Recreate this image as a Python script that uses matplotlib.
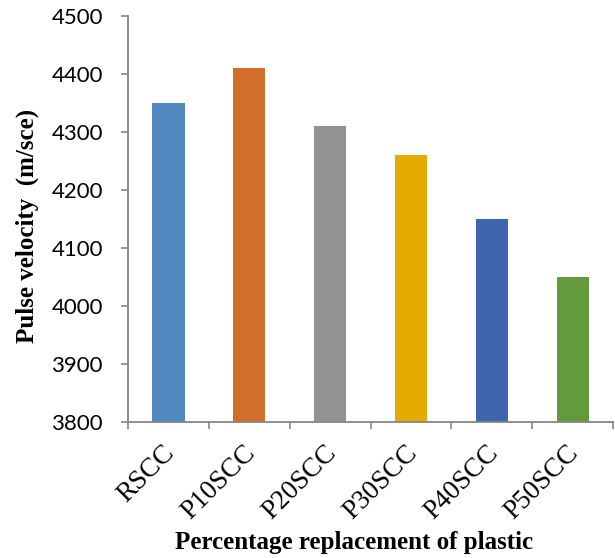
import numpy as np
import matplotlib
matplotlib.use("Agg")
from matplotlib import pyplot as plt
from matplotlib.ticker import FixedLocator

mixes = ["RSCC", "P10SCC", "P20SCC", "P30SCC", "P40SCC", "P50SCC"]
pulse_velocity = [4350, 4410, 4310, 4260, 4150, 4050]
bar_colors = ["#4F89C0", "#D26D2A", "#929292", "#E3AA00", "#3D66AE", "#629A3C"]
y_ticks = [3800, 3900, 4000, 4100, 4200, 4300, 4400, 4500]

axis_grey = "#868686"

fig = plt.figure(figsize=(6.15, 5.58), dpi=100)
ax = fig.add_axes([0.208, 0.2437, 0.789, 0.7273])

x = np.arange(len(mixes))
ax.bar(x, np.array(pulse_velocity) - 3800, bottom=3800, width=0.4,
       color=bar_colors, zorder=2)

ax.set_xlim(-0.5, len(mixes) - 0.5)
ax.set_ylim(3800, 4500)
ax.set_yticks(y_ticks)
ax.set_yticklabels([str(v) for v in y_ticks], family="Lato", fontsize=16)

# category labels sit between the boundary tick marks; the label ticks are
# invisible and nudged right so the slanted text ends just past the centre
ax.set_xticks(x + 0.14)
ax.set_xticklabels(mixes, family="Liberation Serif", fontsize=19.5,
                   rotation=45, ha="right", va="top")
ax.xaxis.set_minor_locator(FixedLocator(np.arange(-0.5, len(mixes), 1.0)))
ax.tick_params(axis="x", which="major", length=0, pad=13)
ax.tick_params(axis="x", which="minor", length=5, width=1.2,
               color=axis_grey, direction="out")
ax.tick_params(axis="y", length=5, width=1.2, color=axis_grey,
               direction="out", pad=13)

for side in ("top", "right"):
    ax.spines[side].set_visible(False)
for side in ("left", "bottom"):
    ax.spines[side].set_color(axis_grey)
    ax.spines[side].set_linewidth(1.3)

fig.text(0.044, 0.595, "Pulse velocity  (m/sce)", family="Liberation Serif",
         fontweight="bold", fontsize=18, rotation=90, ha="center", va="center")
fig.text(0.575, 0.027, "Percentage replacement of plastic",
         family="Liberation Serif", fontweight="bold", fontsize=18,
         ha="center", va="center")

fig.savefig("out.png", dpi=100)
